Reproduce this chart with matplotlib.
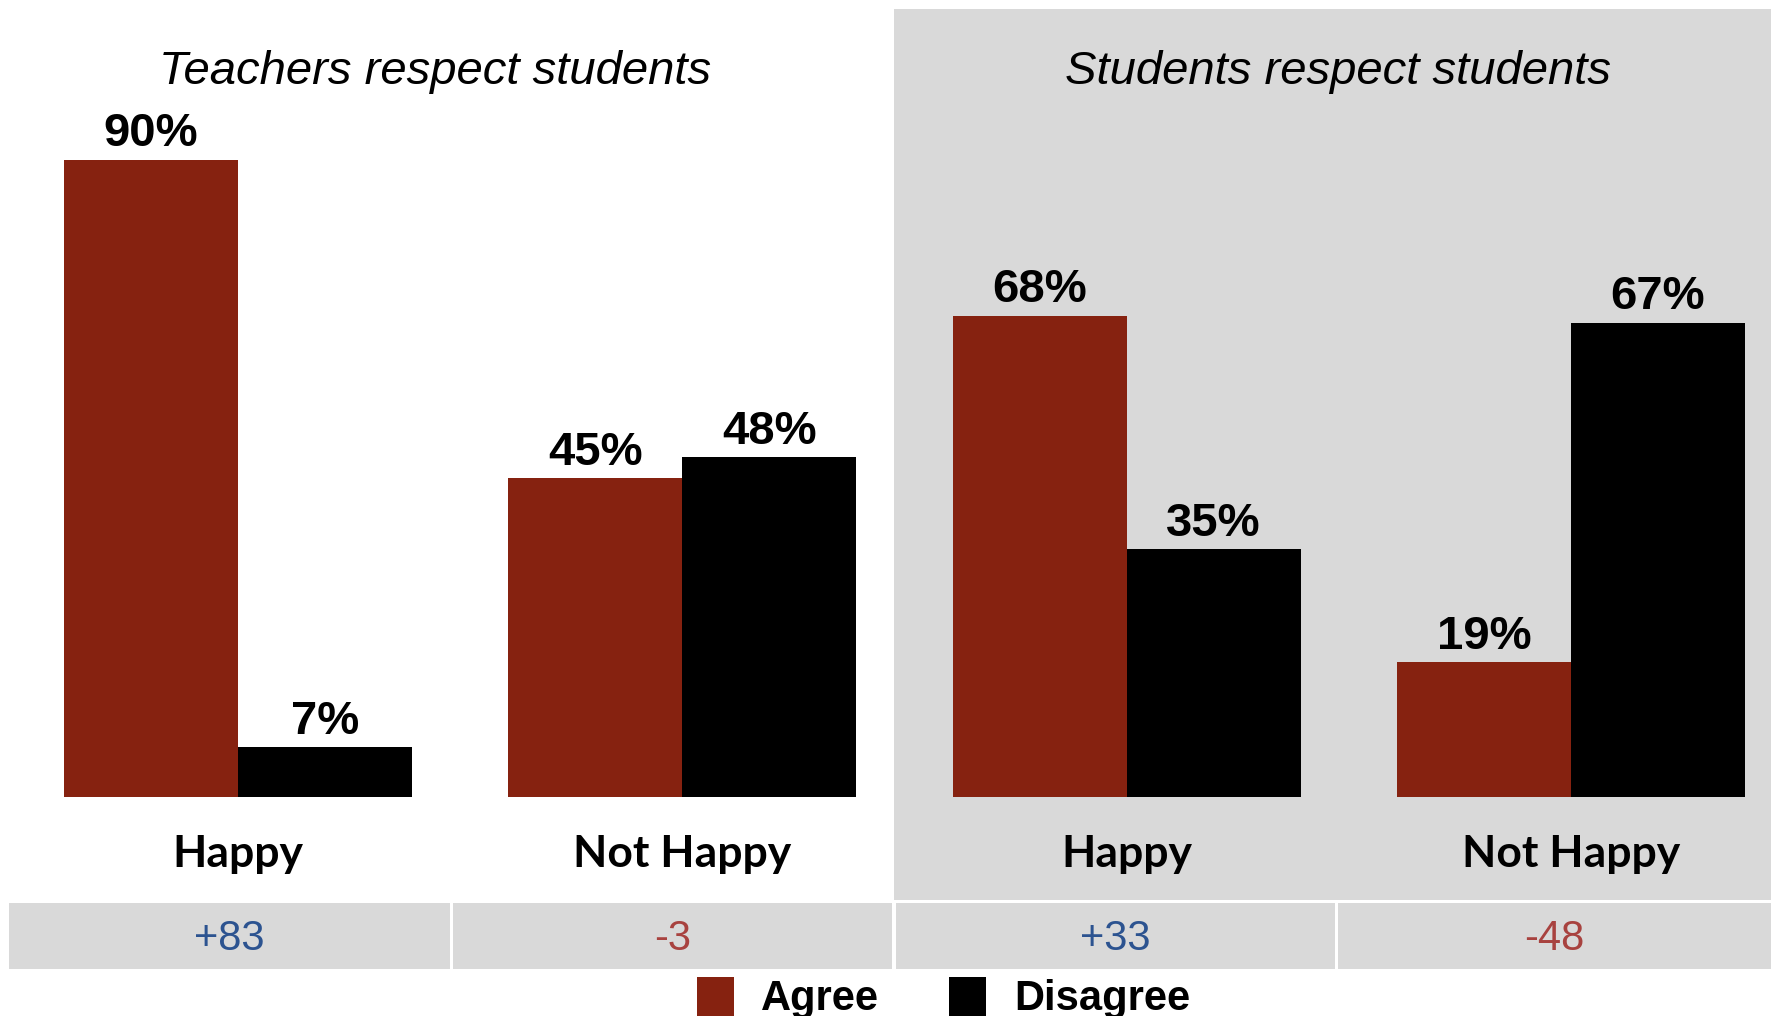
import matplotlib
matplotlib.use("Agg")
import matplotlib.pyplot as plt
from matplotlib.patches import Rectangle

# data
panels = ["Teachers respect students", "Students respect students"]
groups = ["Happy", "Not Happy", "Happy", "Not Happy"]
series = ["Agree", "Disagree"]
agree = [90, 45, 68, 19]
disagree = [7, 48, 35, 67]
net = ["+83", "-3", "+33", "-48"]

c_agree = "#862210"
c_disagree = "#000000"
c_gray = "#D9D9D9"
c_pos = "#2C5390"
c_neg = "#A8423F"

W, H = 1771, 1016
fig = plt.figure(figsize=(W / 100, H / 100), dpi=100)
ax = fig.add_axes([0, 0, 1, 1])

# pixel layout -> data units (x: one unit per group, y: percent)
x0_px, dx_px = 238, 444.3
y0_px, dy_px = 797, 7.08
def px2x(p):
    return (p - x0_px) / dx_px
def px2y(p):
    return (y0_px - p) / dy_px

ax.set_xlim(px2x(0), px2x(W))
ax.set_ylim(px2y(H), px2y(0))
ax.axis("off")

def box(x1, y1, x2, y2, color):
    ax.add_patch(Rectangle((px2x(x1), px2y(y2)), px2x(x2) - px2x(x1),
                           px2y(y1) - px2y(y2), color=color, lw=0, zorder=0))

# shaded right panel
box(894, 9, W, 900, c_gray)

arial = ["Liberation Sans", "DejaVu Sans"]
bw = 174 / dx_px
xs = list(range(len(groups)))
ax.bar([x - bw / 2 for x in xs], agree, width=bw, color=c_agree, zorder=2)
ax.bar([x + bw / 2 for x in xs], disagree, width=bw, color=c_disagree, zorder=2)

for x, a, d in zip(xs, agree, disagree):
    ax.text(x - bw / 2, a + 1.9, f"{a}%", ha="center", va="baseline",
            fontsize=34, fontweight="bold", family=arial)
    ax.text(x + bw / 2, d + 1.9, f"{d}%", ha="center", va="baseline",
            fontsize=34, fontweight="bold", family=arial)
    ax.text(x, px2y(867), groups[x], ha="center", va="baseline",
            fontsize=32, fontweight="bold", family=["Lato", "DejaVu Sans"])

# panel titles
for i, t in enumerate(panels):
    cx = [435, 1338][i]
    ax.text(px2x(cx), px2y(84), t, ha="center", va="baseline",
            fontsize=34, style="italic", family=arial)

# net score row
cells = [(9, 450), (453, 892), (896, 1335), (1338, W)]
for (l, r), s in zip(cells, net):
    box(l, 903, r, 969, c_gray)
    ax.text(px2x((l + r) / 2), px2y(939), s, ha="center", va="center",
            fontsize=30, family=arial,
            color=c_pos if s.startswith("+") else c_neg)

# legend
for (sx, tx), name, col in zip([(697, 761), (949, 1014)], series,
                               [c_agree, c_disagree]):
    box(sx, 977, sx + 37, 1016, col)
    ax.text(px2x(tx), px2y(1010), name, ha="left", va="baseline",
            fontsize=30, fontweight="bold", family=arial)

fig.savefig("out.png", dpi=100)
